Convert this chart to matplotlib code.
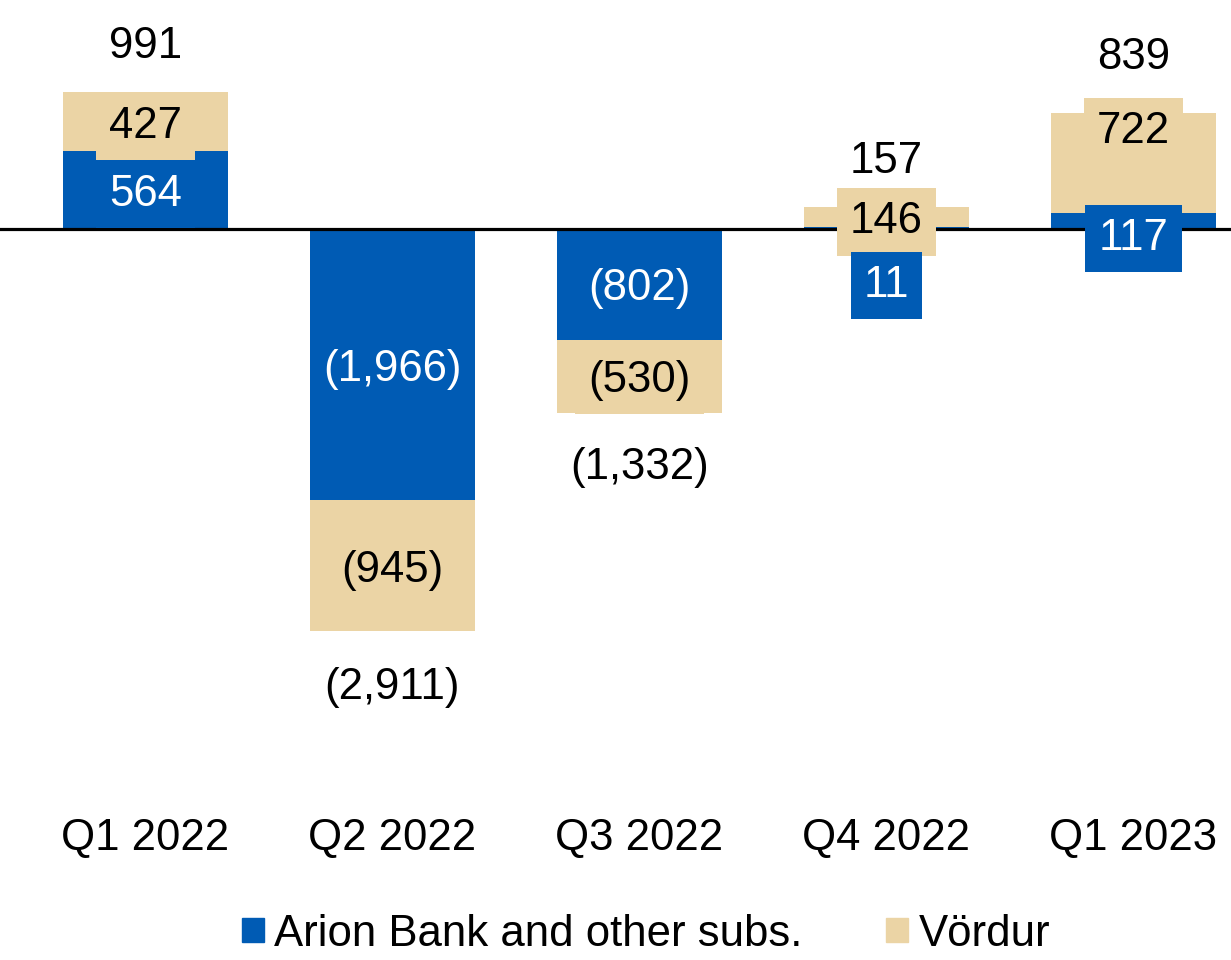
import matplotlib
matplotlib.use("Agg")
import matplotlib.pyplot as plt
from matplotlib.patches import Patch

plt.rcParams["font.family"] = ["Liberation Sans", "DejaVu Sans"]

# Quarterly contribution, ISK millions
quarters = ["Q1 2022", "Q2 2022", "Q3 2022", "Q4 2022", "Q1 2023"]
arion = [564, -1966, -802, 11, 117]
vordur = [427, -945, -530, 146, 722]
totals = [991, -2911, -1332, 157, 839]
series_names = ["Arion Bank and other subs.", "Vördur"]

BLUE = "#005BB4"
TAN = "#EBD4A5"
FS = 31.5

# label placement tweaks for segments too thin to hold their label
arion_label_y = [None, None, None, -377, -36]
vordur_label_y = [None, None, None, None, 739]
total_offset = [365, 379, 364, 365, 436]


def fmt(v):
    return f"({abs(v):,})" if v < 0 else f"{v:,}"


fig = plt.figure(figsize=(12.31, 9.6), dpi=100)
ax = fig.add_axes([0, 170 / 960, 1, 790 / 960])

x = list(range(len(quarters)))
width = 0.668

# stack each series away from zero in the direction of its sign
ax.bar(x, arion, width=width, color=BLUE, zorder=2)
ax.bar(x, vordur, width=width, bottom=arion, color=TAN, zorder=2)

ax.axhline(0, color="black", lw=2.3, zorder=3)

box = dict(boxstyle="square,pad=0.3", ec="none")
va = "center_baseline"
for i in x:
    a, v = arion[i], vordur[i]
    yv = vordur_label_y[i] if vordur_label_y[i] is not None else a + v / 2
    ax.text(i, yv, fmt(v), ha="center", va=va, fontsize=FS,
            color="black", bbox=dict(box, fc=TAN), zorder=4)
for i in x:
    a = arion[i]
    ya = arion_label_y[i] if arion_label_y[i] is not None else a / 2
    ax.text(i, ya, fmt(a), ha="center", va=va, fontsize=FS,
            color="white", bbox=dict(box, fc=BLUE), zorder=5)
for i in x:
    t = totals[i]
    yt = t + total_offset[i] if t >= 0 else t - total_offset[i]
    ax.text(i, yt, fmt(t), ha="center", va=va, fontsize=FS,
            color="black", zorder=4)

ax.set_xlim(-0.589, 4.395)
ax.set_ylim(-(790 - 229) / 0.138, 229 / 0.138)
ax.set_xticks(x)
ax.set_xticklabels(quarters, fontsize=FS)
ax.tick_params(axis="x", length=0, pad=20)
ax.set_yticks([])
for s in ax.spines.values():
    s.set_visible(False)

handles = [Patch(color=BLUE), Patch(color=TAN)]
fig.legend(handles, series_names, loc="center", ncol=2,
           bbox_to_anchor=(646 / 1231, 1 - 934 / 960), frameon=False,
           fontsize=FS, handlelength=0.5, handleheight=0.5,
           handletextpad=0.25, columnspacing=1.9, borderpad=0)

fig.savefig("out.png", dpi=100)
